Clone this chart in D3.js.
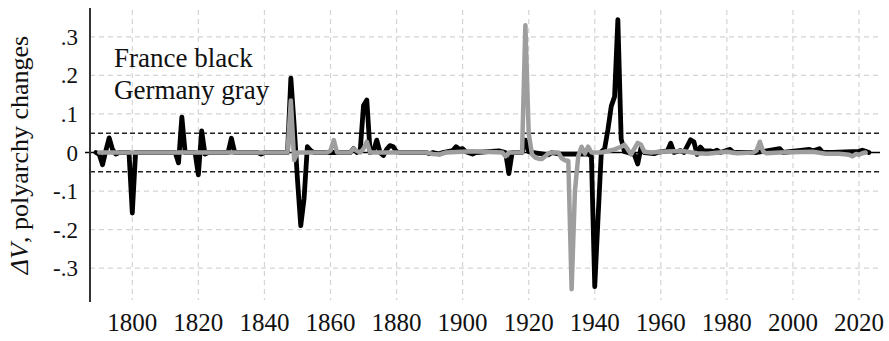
<!DOCTYPE html>
<html><head><meta charset="utf-8">
<script src="https://cdn.jsdelivr.net/npm/d3@7"></script>
</head><body style="margin:0">
<svg id="c" width="889" height="341" font-family="Liberation Serif" style="display:block;font-family:'Liberation Serif'"></svg>
<script>
// ---- data ----
const franceYears = [1789,1790,1791,1792,1793,1794,1795,1796,1799,1800,1801,1813,1814,1815,1816,1819,1820,1821,1822,1823,1829,1830,1831,1838,1839,1840,1847,1848,1849,1850,1851,1852,1853,1854,1855,1866,1867,1868,1869,1870,1871,1872,1873,1874,1875,1876,1877,1878,1879,1880,1881,1889,1890,1891,1893,1894,1897,1898,1899,1900,1901,1903,1904,1911,1913,1914,1915,1918,1919,1920,1921,1926,1927,1929,1938,1939,1940,1941,1942,1943,1944,1945,1946,1947,1948,1949,1950,1952,1953,1954,1955,1958,1959,1962,1963,1964,1966,1967,1969,1970,1971,1972,1973,1975,1976,1977,1978,1981,1982,1989,1996,1997,2005,2006,2008,2009,2012,2020,2021,2022,2023];
const franceValues = [0,-0.005,-0.032,0.005,0.038,0.008,-0.004,0,0,-0.157,0,0,-0.027,0.092,0,0,-0.058,0.056,-0.004,0,0,0.037,0,0,-0.004,0,0,0.193,0.07,-0.07,-0.19,-0.12,0.015,0.005,0,0,0.01,0,0.005,0.122,0.136,0,0.004,0.032,0,-0.008,0.008,0.018,0.015,0.002,0,0,-0.003,0,-0.004,0,0.005,0.015,0.008,0.01,0.002,-0.004,0,0.004,0,-0.055,0,0,0.032,0.002,0,-0.006,0,-0.004,-0.004,-0.01,-0.348,-0.17,0.002,0.01,0.06,0.12,0.145,0.345,0.035,0.002,0,-0.006,-0.03,0.012,0,-0.003,0,0.004,0.024,0,0.005,0,0.033,0.028,-0.005,0.014,0.004,0.004,0.002,0.006,0,0.008,0,0,0.01,0,0.008,0.004,0.01,0,0,0.003,0.006,0.003,0];
const germanyYears = [1790,1847,1848,1849,1850,1859,1860,1861,1862,1866,1867,1868,1869,1870,1871,1872,1889,1891,1893,1895,1903,1912,1913,1914,1918,1919,1920,1921,1922,1923,1924,1925,1926,1927,1929,1930,1931,1932,1933,1934,1935,1936,1937,1938,1939,1942,1944,1946,1948,1949,1950,1951,1952,1953,1954,1955,1957,1960,1964,1967,1971,1974,1980,1983,1988,1989,1990,1991,1992,1996,2006,2010,2014,2017,2018,2019,2020,2021,2022];
const germanyValues = [0,0,0.135,-0.02,0,0,0.005,0.032,0,0,0.01,0.004,0,0.01,0.028,0,0,-0.004,-0.005,0,0.003,0,-0.01,0,0,0.33,0.05,-0.005,-0.013,-0.016,-0.017,-0.01,-0.002,0,0,-0.015,-0.02,-0.022,-0.355,-0.1,-0.01,0.015,-0.003,0.015,0,0,0.004,0.008,0.015,0.02,0.008,-0.005,0.01,0.025,0.02,0.002,0,0.002,0.003,0.003,-0.002,-0.003,0.002,-0.002,0,0.005,0.028,0.002,-0.002,0,0.002,-0.003,-0.003,-0.006,-0.01,-0.004,-0.006,-0.002,0];
const xTicks = [1800,1820,1840,1860,1880,1900,1920,1940,1960,1980,2000,2020];
const yTicks = [-0.3,-0.2,-0.1,0,0.1,0.2,0.3];
const yTickLabels = ["-.3","-.2","-.1","0",".1",".2",".3"];
const thresholds = [0.05,-0.05];
const legendLines = ["France black","Germany gray"];

// ---- layout ----
const FONT = '"Liberation Serif"';
const svg = d3.select("#c");
const x = d3.scaleLinear().domain([1800,2020]).range([132.3,859]);
const y = d3.scaleLinear().domain([-0.388,0.375]).range([302,8]);
const xLeft = 90, xRight = 880;

// grid
const g = svg.append("g");
g.selectAll("line.vg").data(xTicks).join("line")
  .attr("x1",d=>x(d)).attr("x2",d=>x(d)).attr("y1",y.range()[1]+2).attr("y2",y.range()[0]-2)
  .attr("stroke","#d4d4d4").attr("stroke-width",1.2).attr("stroke-dasharray","5,4");
g.selectAll("line.hg").data(yTicks.filter(d=>d!==0)).join("line")
  .attr("x1",xLeft).attr("x2",xRight).attr("y1",d=>y(d)).attr("y2",d=>y(d))
  .attr("stroke","#d4d4d4").attr("stroke-width",1.2).attr("stroke-dasharray","5,4");

// threshold lines
g.selectAll("line.th").data(thresholds).join("line")
  .attr("x1",xLeft).attr("x2",xRight).attr("y1",d=>y(d)).attr("y2",d=>y(d))
  .attr("stroke","#222").attr("stroke-width",1.3).attr("stroke-dasharray","5,3");

// zero line
g.append("line").attr("x1",xLeft-5).attr("x2",xRight).attr("y1",y(0)).attr("y2",y(0))
  .attr("stroke","#000").attr("stroke-width",1.5);

// y axis line
g.append("line").attr("x1",xLeft).attr("x2",xLeft).attr("y1",y.range()[1]).attr("y2",y.range()[0])
  .attr("stroke","#333").attr("stroke-width",2);

// series
const line = d3.line().x(d=>x(d[0])).y(d=>y(d[1]));
const fr = franceYears.map((yr,i)=>[yr,franceValues[i]]);
const de = germanyYears.map((yr,i)=>[yr,germanyValues[i]]);
svg.append("path").datum(fr).attr("d",line).attr("fill","none")
  .attr("stroke","#000").attr("stroke-width",4.8).attr("stroke-linejoin","round").attr("stroke-linecap","round");
svg.append("path").datum(de).attr("d",line).attr("fill","none")
  .attr("stroke","#9e9e9e").attr("stroke-width",4.5).attr("stroke-linejoin","round").attr("stroke-linecap","round");

// tick labels
svg.selectAll("text.xt").data(xTicks).join("text").attr("class","xt")
  .attr("x",d=>x(d)).attr("y",331).attr("text-anchor","middle")
  .style("font-family",FONT).attr("font-size",25).attr("fill","#111").text(d=>d);
svg.selectAll("text.yt").data(yTicks).join("text").attr("class","yt")
  .attr("x",78).attr("y",d=>y(d)).attr("dy","0.35em").attr("text-anchor","end")
  .style("font-family",FONT).attr("font-size",23).attr("fill","#111").text((d,i)=>yTickLabels[i]);

// y title
const yt = svg.append("text").attr("transform","translate(28,155) rotate(-90)")
  .attr("text-anchor","middle").style("font-family",FONT).attr("font-size",26).attr("fill","#111");
yt.append("tspan").attr("font-style","italic").text("ΔV");
yt.append("tspan").text(", polyarchy changes");

// legend text
svg.selectAll("text.lg").data(legendLines).join("text").attr("class","lg")
  .attr("x",114).attr("y",(d,i)=>67+i*32)
  .style("font-family",FONT).attr("font-size",27).attr("fill","#111").text(d=>d);
</script>
</body></html>
